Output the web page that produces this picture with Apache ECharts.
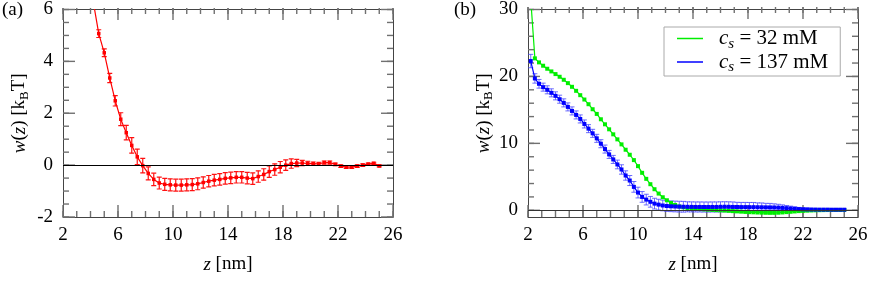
<!DOCTYPE html>
<html>
<head>
<meta charset="utf-8">
<script src="https://cdn.jsdelivr.net/npm/echarts@6/dist/echarts.min.js"></script>
<style>html,body{margin:0;padding:0;background:#fff;}#c{width:875px;height:287px;}</style>
</head>
<body>
<div id="c"></div>
<script>
// ---------- data ----------
const xMin = 2, xMax = 26;
const aYMin = -2, aYMax = 6;
const bYMin = -1, bYMax = 30;
const xMajor = [2, 6, 10, 14, 18, 22, 26];
const xMinor = [2,3,4,5,6,7,8,9,10,11,12,13,14,15,16,17,18,19,20,21,22,23,24,25,26];
const aYMajor = [-2, 0, 2, 4, 6];
const aYMinor = [-2,-1.5,-1,-0.5,0,0.5,1,1.5,2,2.5,3,3.5,4,4.5,5,5.5,6];
const bYMajor = [0, 10, 20, 30];
const bYMinor = [0,2,4,6,8,10,12,14,16,18,20,22,24,26,28,30];

// panel (a)
const aX = [4.2,4.6,5.0,5.4,5.8,6.2,6.6,7.0,7.4,7.8,8.2,8.6,9.0,9.4,9.8,10.2,10.6,11.0,11.4,11.8,12.2,12.6,13.0,13.4,13.8,14.2,14.6,15.0,15.4,15.8,16.2,16.6,17.0,17.4,17.8,18.2,18.6,19.0,19.4,19.8,20.2,20.6,21.0,21.4,21.8,22.2,22.6,23.0,23.4,23.8,24.2,24.6,25.0];
const aY = [6.3,5.07,4.33,3.36,2.48,
            1.77,1.25,0.76,0.32,-0.02,
            -0.32,-0.55,-0.69,-0.74,-0.76,
            -0.77,-0.77,-0.76,-0.75,-0.72,
            -0.67,-0.62,-0.58,-0.55,-0.51,
            -0.49,-0.47,-0.47,-0.5,-0.52,
            -0.44,-0.36,-0.25,-0.17,-0.08,
            0.0,0.06,0.08,0.08,0.07,
            0.06,0.05,0.1,0.1,0.03,
            -0.04,-0.08,-0.08,-0.04,0.0,
            0.04,0.07,-0.03];
const aErr = [0.15,0.15,0.15,0.18,0.2,
              0.25,0.28,0.3,0.3,0.28,
              0.25,0.24,0.23,0.23,0.23,
              0.23,0.23,0.23,0.23,0.23,
              0.22,0.22,0.22,0.22,0.22,
              0.22,0.22,0.22,0.22,0.22,
              0.22,0.22,0.22,0.22,0.22,
              0.2,0.18,0.14,0.1,0.08,
              0.06,0.06,0.06,0.06,0.05,
              0.05,0.05,0.05,0.05,0.05,
              0.04,0.04,0.04];

// panel (b)
const bX = [2.2,2.5,2.8,3.1,3.4,3.7,4.0,4.3,4.6,4.9,
            5.2,5.5,5.8,6.1,6.4,6.7,7.0,7.3,7.6,7.9,
            8.2,8.5,8.8,9.1,9.4,9.7,10.0,10.3,10.6,10.9,
            11.2,11.5,11.8,12.1,12.4,12.7,13.0,13.3,13.6,13.9,
            14.2,14.5,14.8,15.1,15.4,15.7,16.0,16.3,16.6,16.9,
            17.2,17.5,17.8,18.1,18.4,18.7,19.0,19.3,19.6,19.9,
            20.2,20.5,20.8,21.1,21.4,21.7,22.0,22.3,22.6,22.9,
            23.2,23.5,23.8,24.1,24.4,24.7,25.0];
const bGreenY = [31.5,22.7,22.1,21.6,21.15,20.75,20.35,19.95,19.5,19.0,
                 18.45,17.85,17.2,16.55,15.85,15.1,14.4,13.6,12.85,12.1,
                 11.35,10.6,9.85,9.05,8.3,7.5,6.6,5.6,4.7,3.9,
                 3.15,2.5,1.95,1.5,1.1,0.8,0.58,0.45,0.35,0.28,
                 0.22,0.18,0.14,0.1,0.06,0.02,0.0,-0.04,-0.08,-0.12,
                 -0.16,-0.2,-0.24,-0.28,-0.3,-0.33,-0.35,-0.37,-0.38,-0.38,
                 -0.36,-0.32,-0.27,-0.22,-0.17,-0.12,-0.08,-0.05,-0.02,0.0,
                 0.02,0.03,0.04,0.05,0.05,0.05,0.05];
const bBlueY = [22.3,19.7,18.9,18.4,18.0,17.55,17.1,16.6,16.05,15.45,
                14.85,14.25,13.65,12.9,12.2,11.5,10.75,9.95,9.15,8.35,
                7.6,6.85,6.1,5.2,4.45,3.5,2.65,2.0,1.6,1.27,
                1.0,0.85,0.72,0.64,0.6,0.57,0.55,0.53,0.52,0.51,
                0.5,0.5,0.49,0.49,0.5,0.5,0.52,0.53,0.52,0.5,
                0.49,0.48,0.48,0.47,0.47,0.46,0.45,0.44,0.43,0.42,
                0.4,0.36,0.32,0.27,0.22,0.18,0.15,0.13,0.12,0.11,
                0.1,0.1,0.1,0.09,0.09,0.09,0.09];
const bBlueErr = [1.0,0.7,0.65,0.6,0.6,0.6,0.6,0.6,0.6,0.6,
                  0.6,0.6,0.6,0.6,0.6,0.6,0.6,0.6,0.6,0.6,
                  0.6,0.65,0.7,0.7,0.75,0.8,0.8,0.8,0.8,0.8,
                  0.8,0.8,0.8,0.8,0.8,0.8,0.8,0.8,0.75,0.75,
                  0.75,0.75,0.75,0.75,0.75,0.75,0.75,0.75,0.75,0.75,
                  0.7,0.7,0.7,0.7,0.7,0.65,0.65,0.6,0.6,0.55,
                  0.5,0.45,0.4,0.35,0.3,0.25,0.2,0.2,0.15,0.15,
                  0.1,0.1,0.1,0.1,0.1,0.1,0.1];
const seriesNames = ['32 mM', '137 mM'];

// ---------- helpers ----------
const FONT = '"Liberation Serif", "Times New Roman", serif';
const TICK = '#707070';
const FRAME = '#444';
const MAJOR_LEN = 12, MINOR_LEN = 6;

function axis(gridIndex, pos, min, max, labels, isX) {
  return {
    gridIndex, type: 'value', position: pos, min, max, animation: false,
    splitLine: {show: false},
    axisLine: {show: true, onZero: false, lineStyle: {color: FRAME, width: 1}},
    axisTick: {show: false},
    axisLabel: labels ? {show: true, customValues: labels, color: '#000', fontFamily: FONT, fontSize: 19,
                         margin: isX ? 9 : 10}
                      : {show: false}
  };
}

function errSeries(name, xi, yi, xs, ys, es, color, opacity, lw) {
  return {
    type: 'custom', name, xAxisIndex: xi, yAxisIndex: yi, clip: true, silent: true, z: 2,
    data: xs.map((x, i) => [x, ys[i] - es[i], ys[i] + es[i]]),
    renderItem: function (params, api) {
      const x = api.value(0);
      const p1 = api.coord([x, api.value(1)]);
      const p2 = api.coord([x, api.value(2)]);
      const w = 2.5;
      const st = {stroke: color, lineWidth: lw, opacity};
      return {type: 'group', children: [
        {type: 'line', shape: {x1: p1[0], y1: p1[1], x2: p2[0], y2: p2[1]}, style: st},
        {type: 'line', shape: {x1: p1[0] - w, y1: p1[1], x2: p1[0] + w, y2: p1[1]}, style: st},
        {type: 'line', shape: {x1: p2[0] - w, y1: p2[1], x2: p2[0] + w, y2: p2[1]}, style: st}
      ]};
    }
  };
}

function lineSeries(name, xi, yi, xs, ys, color, size) {
  return {
    type: 'line', name, xAxisIndex: xi, yAxisIndex: yi, clip: true, z: 3,
    data: xs.map((x, i) => [x, ys[i]]),
    symbol: 'rect', symbolSize: size, showSymbol: true,
    itemStyle: {color}, lineStyle: {color, width: 1.2},
    emphasis: {disabled: true}
  };
}

const zeroLine = {silent: true, symbol: 'none', label: {show: false},
  lineStyle: {color: '#000', type: 'solid', width: 1}, data: [{yAxis: 0}], animation: false};

const rich = {
  gap: {width: 11},
  i: {fontFamily: FONT, fontSize: 19, fontStyle: 'italic', color: '#000'},
  n: {fontFamily: FONT, fontSize: 19, color: '#000'},
  li: {fontFamily: FONT, fontSize: 21, fontStyle: 'italic', color: '#000'},
  ln: {fontFamily: FONT, fontSize: 21, color: '#000'},
  sub: {fontFamily: FONT, fontSize: 13, color: '#000', verticalAlign: 'bottom', padding: [10, 0, 0, 0]},
  subi: {fontFamily: FONT, fontSize: 15, fontStyle: 'italic', color: '#000', padding: [11, 0, 0, 0]}
};
const xName = '{i|z}{n| [nm]}';
const yName = '{i|w}{n|(}{i|z}{n|) [k}{sub|B}{n|T]}';

const xAxes = [
  axis(0, 'bottom', xMin, xMax, xMajor, true),
  axis(0, 'top', xMin, xMax, null, true),
  axis(1, 'bottom', xMin, xMax, xMajor, true),
  axis(1, 'top', xMin, xMax, null, true)
];
Object.assign(xAxes[0], {name: xName, nameLocation: 'middle', nameGap: 38, nameTextStyle: {rich}});
Object.assign(xAxes[2], {name: xName, nameLocation: 'middle', nameGap: 38, nameTextStyle: {rich}});
const yAxes = [
  axis(0, 'left', aYMin, aYMax, aYMajor, false),
  axis(0, 'right', aYMin, aYMax, null, false),
  axis(1, 'left', bYMin, bYMax, bYMajor, false),
  axis(1, 'right', bYMin, bYMax, null, false)
];
Object.assign(yAxes[0], {name: yName, nameLocation: 'middle', nameGap: 32, nameTextStyle: {rich}});
Object.assign(yAxes[2], {name: yName, nameLocation: 'middle', nameGap: 32, nameTextStyle: {rich}});

const redS = lineSeries('a', 0, 0, aX, aY, '#ff0000', 3.5);
redS.markLine = zeroLine;
const greenS = lineSeries(seriesNames[0], 2, 2, bX, bGreenY, '#00ee00', 4);
greenS.markLine = Object.assign({}, zeroLine, {lineStyle: {color: '#333', width: 1, type: 'solid'}});
const blueS = lineSeries(seriesNames[1], 2, 2, bX, bBlueY, '#0000ff', 4);

const GRIDS = [
  {left: 63, top: 8, width: 330, height: 209},
  {left: 528, top: 7, width: 330, height: 210}
];
const option = {
  animation: false,
  backgroundColor: '#fff',
  grid: GRIDS,
  xAxis: xAxes,
  yAxis: yAxes,
  legend: {
    data: seriesNames, orient: 'vertical', left: 664, top: 27,
    backgroundColor: '#fff', borderColor: '#aaa', borderWidth: 1, padding: [1, 12, 1, 13],
    itemWidth: 26, itemHeight: 1.5, itemGap: 0, icon: 'rect', selectedMode: false,
    formatter: (name) => '{gap|}{li|c}{subi|s}{ln| = ' + name + '}',
    textStyle: {rich, fontFamily: FONT, fontSize: 21, color: '#000'}
  },
  series: [
    errSeries('aErr', 0, 0, aX, aY, aErr, '#ff1010', 1, 1.2),
    redS,
    greenS,
    errSeries('bErr', 2, 2, bX, bBlueY, bBlueErr, '#4848ff', 0.8, 1),
    blueS
  ]
};
const chart = echarts.init(document.getElementById('c'), null, {renderer: 'canvas'});
chart.setOption(option);

// inward tick marks on all four sides, positioned through each panel's axes
function tickGraphics(finder, grid, xMaj, xMin_, yMaj, yMin_, xRef, yRef) {
  const out = [];
  const l = grid.left, r = grid.left + grid.width, t = grid.top, b = grid.top + grid.height;
  const add = (x1, y1, x2, y2) => out.push({type: 'line', silent: true, z: 1,
    shape: {x1, y1, x2, y2}, style: {stroke: TICK, lineWidth: 1.4}});
  const xt = (v, len) => {
    const px = chart.convertToPixel(finder, [v, yRef])[0];
    add(px, b, px, b - len); add(px, t, px, t + len);
  };
  const yt = (v, len) => {
    const py = chart.convertToPixel(finder, [xRef, v])[1];
    add(l, py, l + len, py); add(r, py, r - len, py);
  };
  xMin_.forEach(v => xt(v, MINOR_LEN)); xMaj.forEach(v => xt(v, MAJOR_LEN));
  yMin_.forEach(v => yt(v, MINOR_LEN)); yMaj.forEach(v => yt(v, MAJOR_LEN));
  return out;
}
const ticksA = tickGraphics({xAxisIndex: 0, yAxisIndex: 0}, GRIDS[0], xMajor, xMinor, aYMajor, aYMinor, xMin, 0);
const ticksB = tickGraphics({xAxisIndex: 2, yAxisIndex: 2}, GRIDS[1], xMajor, xMinor, bYMajor, bYMinor, xMin, 0);
chart.setOption({graphic: [
  {type: 'text', left: 2, top: 1, style: {text: '(a)', font: '19px "Liberation Serif", serif', fill: '#000'}},
  {type: 'text', left: 454, top: 1, style: {text: '(b)', font: '19px "Liberation Serif", serif', fill: '#000'}},
  {type: 'group', z: 1, children: ticksA.concat(ticksB)}
]});
</script>
</body>
</html>
